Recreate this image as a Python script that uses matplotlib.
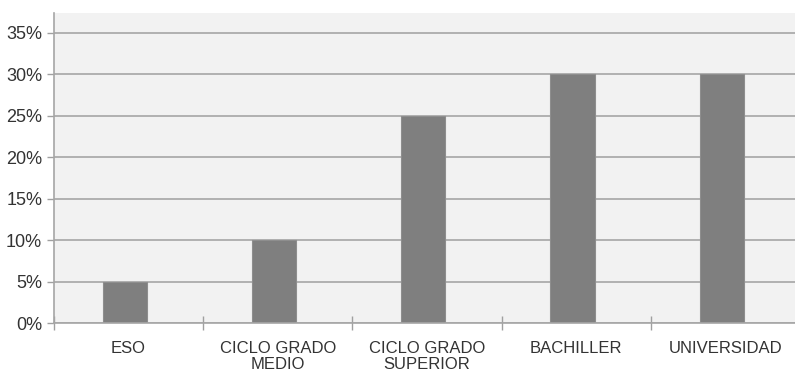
import matplotlib.pyplot as plt
from matplotlib.ticker import FixedLocator, FuncFormatter

categorias = ["ESO", "CICLO GRADO\nMEDIO", "CICLO GRADO\nSUPERIOR", "BACHILLER", "UNIVERSIDAD"]
porcentajes = [5, 10, 25, 30, 30]
ticks_y = [0, 5, 10, 15, 20, 25, 30, 35]

plt.rcParams["font.family"] = ["Liberation Sans", "DejaVu Sans"]

fig = plt.figure(figsize=(7.95, 3.72), dpi=100)
fig.patch.set_facecolor("white")
ax = fig.add_axes([54 / 795, 1 - 323 / 372, 746 / 795, 310 / 372])
ax.set_facecolor("#f2f2f2")

x = list(range(len(categorias)))
# las barras van ligeramente a la izquierda del centro de cada categoría
ax.bar([i - 0.025 for i in x], porcentajes, width=0.297, color="#7f7f7f",
       edgecolor="#8e8e8e", linewidth=0.8, zorder=2)

ax.set_xlim(-0.5, len(categorias) - 0.5)
ax.set_ylim(0, 37.4)

# rejilla horizontal
ax.yaxis.set_major_locator(FixedLocator(ticks_y))
ax.yaxis.set_major_formatter(FuncFormatter(lambda v, _: f"{v:.0f}%"))
ax.grid(axis="y", color="#a6a6a6", linewidth=1.2, zorder=1)
ax.set_axisbelow(True)

# etiquetas centradas y marcas entre categorías
ax.set_xticks(x)
ax.set_xticklabels(categorias, fontsize=12, color="#333333", linespacing=1.12)
ax.tick_params(axis="x", which="major", length=0, pad=13)
ax.set_xticks([i - 0.5 for i in range(len(categorias) + 1)], minor=True)
ax.tick_params(axis="x", which="minor", length=10, direction="inout", color="#a0a0a0", width=1)
ax.tick_params(axis="y", length=5, color="#a0a0a0", width=1, labelsize=13,
               labelcolor="#333333", pad=3.5)

for lado in ["top", "right"]:
    ax.spines[lado].set_visible(False)
for lado in ["left", "bottom"]:
    ax.spines[lado].set_color("#a6a6a6")
    ax.spines[lado].set_linewidth(1.2)
    ax.spines[lado].set_zorder(3)

fig.savefig("out.png", dpi=100, facecolor="white")
